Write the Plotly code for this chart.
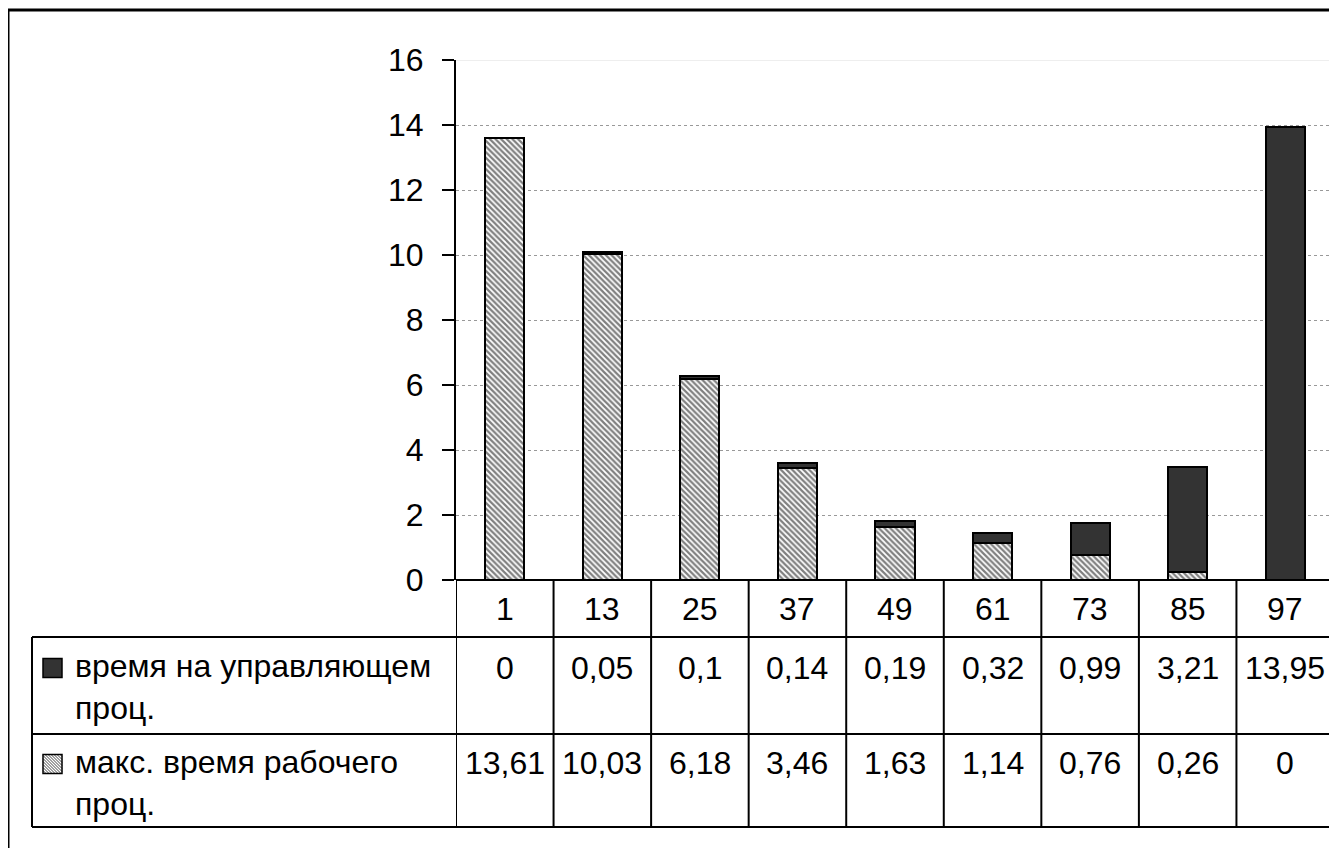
import plotly.graph_objects as go

W, H = 1337, 848
OFF = 8  # page body margin
FW, FH = W - OFF, H - OFF
FONT = "Liberation Sans, Arial, sans-serif"

categories = ["1", "13", "25", "37", "49", "61", "73", "85", "97"]
control_time = [0, 0.05, 0.1, 0.14, 0.19, 0.32, 0.99, 3.21, 13.95]
worker_max_time = [13.61, 10.03, 6.18, 3.46, 1.63, 1.14, 0.76, 0.26, 0]
control_labels = ["0", "0,05", "0,1", "0,14", "0,19", "0,32", "0,99", "3,21", "13,95"]
worker_labels = ["13,61", "10,03", "6,18", "3,46", "1,63", "1,14", "0,76", "0,26", "0"]
series_names = ["время на управляющем<br>проц.", "макс. время рабочего<br>проц."]
y_ticks = [0, 2, 4, 6, 8, 10, 12, 14, 16]


def px(x):
    return (x - OFF) / FW


def py(y):
    return 1 - (y - OFF) / FH


xi = list(range(len(categories)))

fig = go.Figure()
fig.add_trace(go.Bar(
    x=xi, y=worker_max_time, name="макс. время рабочего проц.",
    marker=dict(color="white", line=dict(color="black", width=2),
                pattern=dict(shape="\\", size=4, solidity=0.55,
                             fgcolor="#000", bgcolor="white")),
    showlegend=False,
))
fig.add_trace(go.Bar(
    x=xi, y=control_time, name="время на управляющем проц.",
    marker=dict(color="#333333", line=dict(color="black", width=2)),
    showlegend=False,
))

# table geometry (pixels)
X_L, X_AX, X_R = 32, 456, 1334
Y_AX, Y_R1, Y_R2, Y_B = 580, 637, 734, 827

shapes = []
# outer chart border
shapes.append(dict(type="rect", xref="paper", yref="paper",
                   x0=px(8), x1=px(1360), y0=py(10), y1=py(880),
                   line=dict(color="black", width=3), fillcolor="rgba(0,0,0,0)"))
# top grid line lighter
shapes.append(dict(type="line", xref="x", yref="y", x0=-0.5, x1=8.5, y0=16, y1=16,
                   line=dict(color="white", width=2), layer="above"))
shapes.append(dict(type="line", xref="x", yref="y", x0=-0.5, x1=8.5, y0=16, y1=16,
                   line=dict(color="#dddddd", width=1), layer="above"))
# horizontal table lines
shapes.append(dict(type="line", xref="paper", yref="paper", x0=px(X_AX), x1=px(X_R),
                   y0=py(Y_AX), y1=py(Y_AX), line=dict(color="black", width=2)))
for yy in (Y_R1, Y_R2, Y_B):
    shapes.append(dict(type="line", xref="paper", yref="paper", x0=px(X_L), x1=px(X_R),
                       y0=py(yy), y1=py(yy), line=dict(color="black", width=2)))
# vertical table lines
shapes.append(dict(type="line", xref="paper", yref="paper", x0=px(X_L), x1=px(X_L),
                   y0=py(Y_R1), y1=py(Y_B), line=dict(color="black", width=2)))
for i in range(len(categories) + 1):
    shapes.append(dict(type="line", xref="x", yref="paper", x0=i - 0.5, x1=i - 0.5,
                       y0=py(Y_AX), y1=py(Y_B), line=dict(color="black", width=2)))

# legend keys
k0, k1 = 43, 62
for cy, dark in ((668, True), (764, False)):
    t, b = cy - 9.5, cy + 9.5
    if dark:
        shapes.append(dict(type="rect", xref="paper", yref="paper",
                           x0=px(k0), x1=px(k1), y0=py(t), y1=py(b),
                           fillcolor="#333333", line=dict(color="black", width=1.5)))
    else:
        size = k1 - k0
        path = ""
        for s in range(-int(size), int(size) + 1, 3):
            xa, ya = k0 + s, t
            xb, yb = k0 + s + size, b
            if xa < k0:
                ya += k0 - xa
                xa = k0
            if xb > k1:
                yb -= xb - k1
                xb = k1
            if xb - xa < 1:
                continue
            path += f"M{px(xa)},{py(ya)} L{px(xb)},{py(yb)} "
        shapes.append(dict(type="path", xref="paper", yref="paper", path=path,
                           line=dict(color="#444444", width=1)))
        shapes.append(dict(type="rect", xref="paper", yref="paper",
                           x0=px(k0), x1=px(k1), y0=py(t), y1=py(b),
                           fillcolor="rgba(0,0,0,0)", line=dict(color="black", width=1.5)))

annotations = []
FS = 32
for i, c in enumerate(categories):
    annotations.append(dict(x=i, xref="x", y=py(609), yref="paper", text=c,
                            showarrow=False, font=dict(family=FONT, size=FS, color="black"),
                            xanchor="center", yanchor="middle"))
    annotations.append(dict(x=i, xref="x", y=py(668), yref="paper", text=control_labels[i],
                            showarrow=False, font=dict(family=FONT, size=FS, color="black"),
                            xanchor="center", yanchor="middle"))
    annotations.append(dict(x=i, xref="x", y=py(763), yref="paper", text=worker_labels[i],
                            showarrow=False, font=dict(family=FONT, size=FS, color="black"),
                            xanchor="center", yanchor="middle"))
for name, top in zip(series_names, (646, 742)):
    annotations.append(dict(x=px(73), xref="paper", y=py(top), yref="paper", text=name,
                            showarrow=False, font=dict(family=FONT, size=FS, color="black"),
                            xanchor="left", yanchor="top", align="left"))

fig.update_layout(
    width=FW, height=FH, autosize=False,
    margin=dict(l=0, r=0, t=0, b=0, pad=0),
    paper_bgcolor="white", plot_bgcolor="white",
    barmode="stack", bargap=0.6,
    shapes=shapes, annotations=annotations,
    showlegend=False,
    xaxis=dict(domain=[px(X_AX), px(X_R)], range=[-0.5, 8.5], showticklabels=False,
               showgrid=False, zeroline=False, showline=False, ticks="",
               automargin=False),
    yaxis=dict(domain=[py(Y_AX), py(60)], range=[0, 16], tickvals=y_ticks,
               ticks="outside", ticklen=12, tickwidth=2, tickcolor="black",
               showline=True, linecolor="black", linewidth=2,
               showgrid=True, gridcolor="#999999", griddash="dot", gridwidth=1,
               zeroline=False, ticklabelstandoff=12, automargin=False,
               tickfont=dict(family=FONT, size=FS, color="black")),
)

fig.write_html("out.html")
